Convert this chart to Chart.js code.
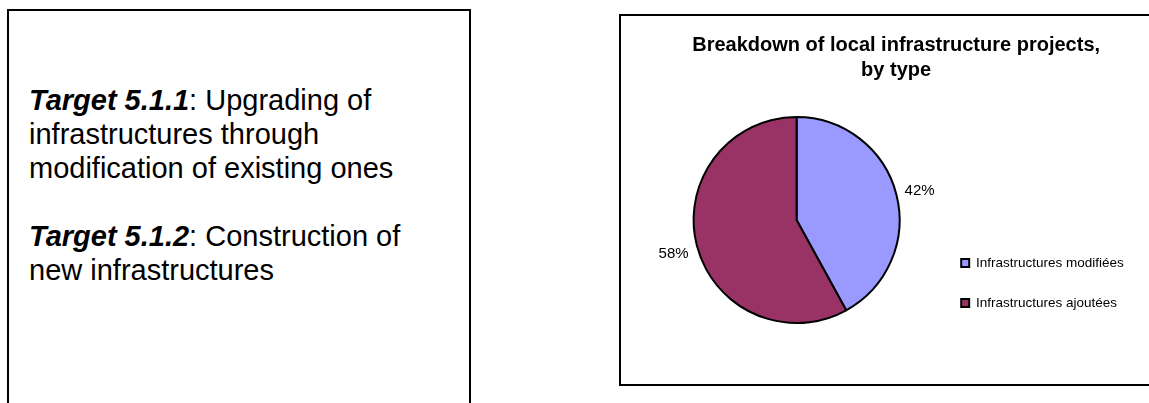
<!DOCTYPE html>
<html>
<head>
<meta charset="utf-8">
<script src="https://cdn.jsdelivr.net/npm/chart.js@4/dist/chart.umd.min.js"></script>
<style>
  html, body { margin: 0; padding: 0; background: #fff; overflow: hidden; }
  body { width: 1149px; height: 403px; position: relative; font-family: 'Liberation Sans', Arial, sans-serif; }
  /* 왼쪽 텍스트 상자 */
  #targetBox {
    position: absolute; left: 7px; top: 9px; width: 464px; height: 500px;
    border: 2px solid #000; box-sizing: border-box;
    padding: 72px 40px 0 20px;
    font-size: 29px; line-height: 34px; color: #000;
  }
  #targetBox p { margin: 0 0 34px 0; }
  /* 오른쪽 차트 상자 */
  #chartBox {
    position: absolute; left: 619px; top: 14px; width: 600px; height: 372px;
    border: 2px solid #000; box-sizing: border-box;
  }
  #chartWrap { position: absolute; left: 0; top: 0; width: 528px; height: 368px; }
</style>
</head>
<body>
<div id="targetBox">
  <p><b><i>Target 5.1.1</i></b>: Upgrading of infrastructures through modification of existing ones</p>
  <p><b><i>Target 5.1.2</i></b>: Construction of new infrastructures</p>
</div>
<div id="chartBox">
  <div id="chartWrap"><canvas id="pieChart"></canvas></div>
</div>
<script>
// 차트 데이터
const categories = ['Infrastructures modifiées', 'Infrastructures ajoutées'];
const shares = [42, 58];
const sliceColors = ['#9999FF', '#993366'];
const titleLines = ['Breakdown of local infrastructure projects,', 'by type'];

Chart.defaults.font.family = "'Liberation Sans', Arial, sans-serif";
Chart.defaults.color = '#000';

// 조각 바깥쪽 퍼센트 라벨
const outsideLabels = {
  id: 'outsideLabels',
  afterDatasetsDraw(chart) {
    const { ctx } = chart;
    const meta = chart.getDatasetMeta(0);
    const total = shares.reduce((a, b) => a + b, 0);
    ctx.save();
    ctx.font = "15px 'Liberation Sans', Arial, sans-serif";
    ctx.fillStyle = '#000';
    ctx.textAlign = 'center';
    ctx.textBaseline = 'middle';
    meta.data.forEach((arc, i) => {
      const { x, y, startAngle, endAngle, outerRadius } = arc.getProps(
        ['x', 'y', 'startAngle', 'endAngle', 'outerRadius'], true);
      const mid = (startAngle + endAngle) / 2;
      const r = outerRadius + 24;
      const pct = Math.round((shares[i] / total) * 100) + '%';
      ctx.fillText(pct, x + Math.cos(mid) * r, y + Math.sin(mid) * r + 2);
    });
    ctx.restore();
  },
};

new Chart(document.getElementById('pieChart'), {
  type: 'pie',
  data: {
    labels: categories,
    datasets: [
      {
        data: shares,
        backgroundColor: sliceColors,
        borderColor: '#000',
        borderWidth: 2,
        radius: 103,
      },
    ],
  },
  options: {
    responsive: true,
    maintainAspectRatio: false,
    animation: false,
    layout: { padding: { left: 37.5, right: 15.25, top: 0, bottom: 47.75 } },
    plugins: {
      title: {
        display: true,
        text: titleLines,
        color: '#000',
        font: { size: 20, weight: 'bold', lineHeight: 1.25 },
        padding: { top: 16.5, bottom: 21.25 },
      },
      legend: {
        position: 'right',
        align: 'end',
        labels: {
          boxWidth: 8,
          boxHeight: 8,
          padding: 26.5,
          color: '#000',
          font: { size: 13.5 },
        },
      },
      tooltip: { enabled: false },
    },
  },
  plugins: [outsideLabels],
});
</script>
</body>
</html>
